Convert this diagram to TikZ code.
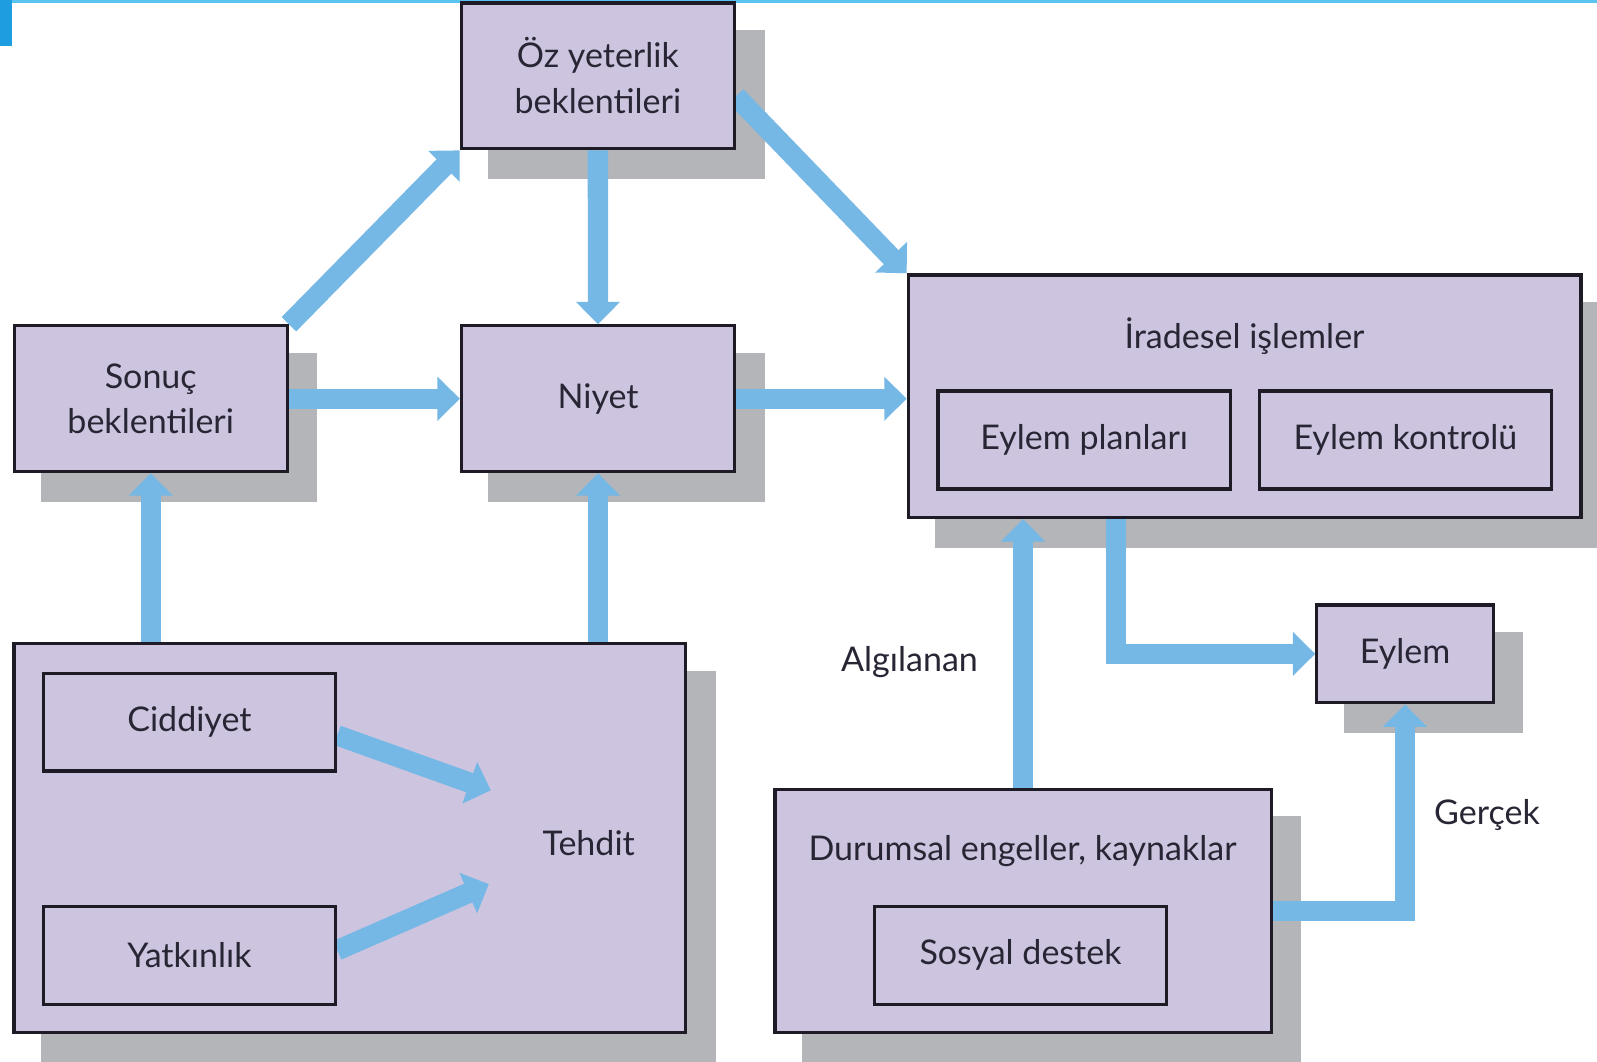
\documentclass[tikz,border=0pt]{standalone}
\usepackage{fontspec}
\setmainfont{Lato}
\usepackage{xcolor}
\usepackage{tikz}
\usetikzlibrary{positioning,arrows.meta,calc}
\definecolor{boxfill}{RGB}{205,197,223}
\definecolor{boxline}{RGB}{30,27,38}
\definecolor{arrowblue}{RGB}{117,184,230}
\definecolor{shadowgray}{RGB}{180,181,184}
\definecolor{textdark}{RGB}{40,38,52}
\definecolor{topline}{RGB}{90,196,240}
\definecolor{topblock}{RGB}{30,158,224}
\pgfdeclarelayer{back}
\pgfdeclarelayer{front}
\pgfsetlayers{back,main,front}

\begin{document}
\begin{tikzpicture}[
    x=0.01cm, y=-0.01cm,
    box/.style={draw=boxline, line width=0.9pt, fill=boxfill, align=center, text=textdark, font=\fontsize{9.5}{12.8}\selectfont, inner sep=0pt},
    bigbox/.style={box, minimum width=2.68cm, minimum height=1.43cm},
    smallbox/.style={box, minimum width=2.87cm, minimum height=0.96cm},
    lbl/.style={text=textdark, font=\fontsize{9.5}{12.8}\selectfont, inner sep=1pt},
    arrow/.style={-{Triangle[width=0.42cm,length=0.22cm]}, line width=0.2cm, draw=arrowblue}
]
\useasboundingbox (0,0) rectangle (1568,1042);

% Top bar
\fill[topline] (12,0) rectangle (1568,2.5);
\fill[topblock] (0,0) rectangle (12,45);

% Expectations
\node[bigbox] (oz) at (587,74.5) {Öz yeterlik\\beklentileri};
\node[bigbox] (sonuc) at (148,391.5) {Sonuç\\beklentileri};
\node[bigbox, right=1.678cm of sonuc] (niyet) {Niyet};

% Volitional processes
\node[box, minimum width=6.6cm, minimum height=2.38cm] (irade) at (1222,389) {};
\node[lbl] (iradetitle) at (1222,330) {İradesel işlemler};
\node[smallbox] (plan) at (1064.5,432) {Eylem planları};
\node[smallbox, right=0.25cm of plan] (kontrol) {Eylem kontrolü};

% Action
\node[box, minimum width=1.73cm, minimum height=0.96cm] (eylem) at (1379.5,642) {Eylem};

% Threat
\node[box, minimum width=6.59cm, minimum height=3.82cm] (tehditbox) at (343.5,823) {};
\node[lbl] (tehdit) at (578,828) {Tehdit};
\begin{pgfonlayer}{front}
\node[smallbox] (ciddiyet) at (186,709) {Ciddiyet};
\node[smallbox] (yatkinlik) at (186,938) {Yatkınlık};
\end{pgfonlayer}

% Situational barriers
\node[box, minimum width=4.87cm, minimum height=2.39cm] (durum) at (1004.5,894.5) {};
\node[lbl] (durumtitle) at (1004,836) {Durumsal engeller, kaynaklar};
\node[smallbox] (sosyal) at (1002,938) {Sosyal destek};

% Arrow labels
\node[lbl] (algi) at (893,650) {Algılanan};
\node[lbl] (gercek) at (1460,800) {Gerçek};

% Shadows and outer arrows
\begin{pgfonlayer}{back}
\foreach \n in {oz,sonuc,niyet,irade,eylem,tehditbox,durum}
    \fill[shadowgray] ([shift={(0.28cm,-0.28cm)}]\n.south west) rectangle ([shift={(0.28cm,-0.28cm)}]\n.north east);

\draw[arrow] (sonuc.north east) -- (oz.south west);
\draw[arrow] (oz) -- (niyet);
\draw[arrow] ([yshift=-0.2cm]oz.east) -- (irade.north west);
\draw[arrow] (sonuc) -- (niyet);
\draw[arrow] (niyet) -- (niyet -| irade.west);
\draw[arrow] (sonuc.south |- tehditbox.north) -- (sonuc.south);
\draw[arrow] (niyet.south |- tehditbox.north) -- (niyet.south);
\draw[arrow] (durum.north) -- (durum.north |- irade.south);
\draw[arrow] ([xshift=-1.26cm]irade.south) |- (eylem.west);
\draw[arrow] (durum.east) -| (eylem.south);
\end{pgfonlayer}

% Inner arrows
\draw[arrow] ([yshift=-0.13cm]ciddiyet.east) -- ([shift={(-0.96cm,0.52cm)}]tehdit.center);
\draw[arrow] ([yshift=0.05cm]yatkinlik.east) -- ([shift={(-0.98cm,-0.40cm)}]tehdit.center);

\end{tikzpicture}
\end{document}
